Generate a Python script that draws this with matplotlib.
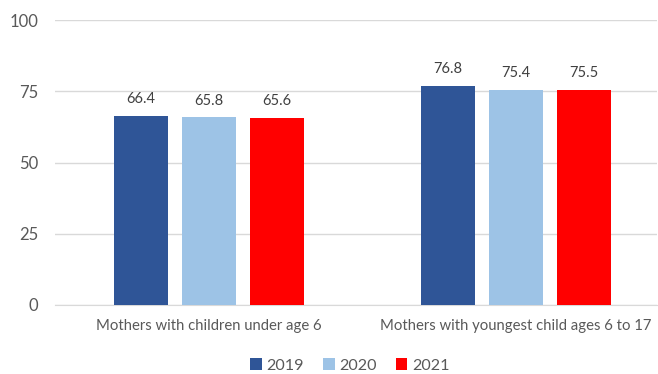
import numpy as np
import matplotlib.pyplot as plt

categories = ['Mothers with children under age 6', 'Mothers with youngest child ages 6 to 17']
years = ['2019', '2020', '2021']
v2019 = [66.4, 76.8]
v2020 = [65.8, 75.4]
v2021 = [65.6, 75.5]
colors = ['#2F5597', '#9DC3E6', '#FF0000']

plt.rcParams['font.family'] = ['Lato', 'DejaVu Sans']

fig = plt.figure(figsize=(6.58, 3.74), dpi=100)
ax = fig.add_axes([0.0836, 0.1845, 0.915, 0.762])

x = np.arange(len(categories))
w = 0.176
off = 0.2215
for i, (vals, yr) in enumerate(zip([v2019, v2020, v2021], years)):
    bars = ax.bar(x + (i - 1) * off, vals, w, color=colors[i], label=yr, zorder=3)
    for b, v in zip(bars, vals):
        ax.annotate(f'{v:.1f}', (b.get_x() + b.get_width() / 2, v), xytext=(0, 7),
                    textcoords='offset points', ha='center', va='bottom',
                    fontsize=10.5, color='#404040')

ax.set_ylim(0, 100)
ax.set_yticks([0, 25, 50, 75, 100])
ax.set_xlim(-0.502, 1.459)
ax.set_xticks(x)
ax.set_xticklabels(categories)
ax.grid(axis='y', color='#D9D9D9', linewidth=1, zorder=0)
for s in ['top', 'right', 'left']:
    ax.spines[s].set_visible(False)
ax.spines['bottom'].set_color('#D9D9D9')
ax.tick_params(axis='both', length=0, colors='#595959')
ax.tick_params(axis='x', pad=10, labelsize=10.7)
ax.tick_params(axis='y', pad=12, labelsize=12)

fig.legend(loc='lower center', bbox_to_anchor=(0.532, -0.035), ncol=3, frameon=False,
           fontsize=11.6, handlelength=0.7, handleheight=0.7, handletextpad=0.3,
           columnspacing=1.2, labelcolor='#595959')

fig.savefig('out.png', dpi=100)
